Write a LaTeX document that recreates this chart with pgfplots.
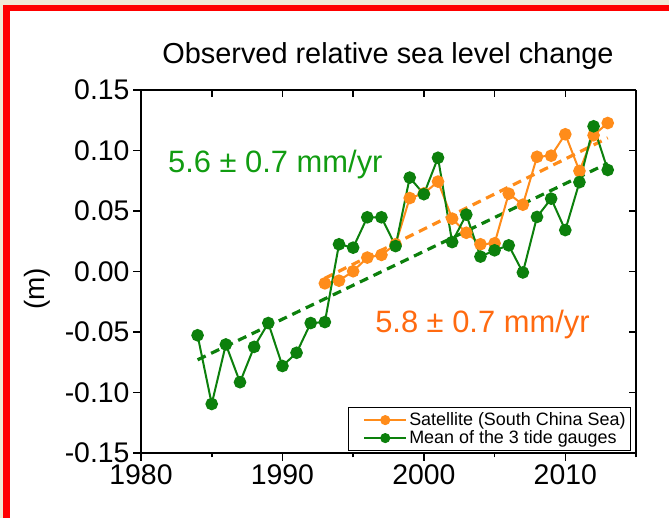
\documentclass[border=0pt]{standalone}
\usepackage{pgfplots}
\pgfplotsset{compat=1.18}
\usepackage{pgfplotstable}
\usepackage{fontspec}
\setmainfont{Liberation Sans}

\definecolor{satorange}{RGB}{255,140,26}
\definecolor{tidegreen}{RGB}{12,128,12}
\definecolor{txtgreen}{RGB}{17,156,17}
\definecolor{txtorange}{RGB}{255,106,16}
\definecolor{framered}{RGB}{255,0,0}
\definecolor{backbeige}{RGB}{240,233,214}

% Satellite altimetry, South China Sea (m)
\pgfplotstableread{
year sat
1993 -0.0098
1994 -0.0076
1995  0.0002
1996  0.0115
1997  0.0137
1998  0.0225
1999  0.0607
2000  0.0645
2001  0.0743
2002  0.0437
2003  0.0320
2004  0.0225
2005  0.0233
2006  0.0643
2007  0.0552
2008  0.0948
2009  0.0957
2010  0.1134
2011  0.0831
2012  0.1126
2013  0.1227
}\satellite

% Mean of the three tide gauges (m)
\pgfplotstableread{
year tide
1984 -0.0527
1985 -0.1095
1986 -0.0603
1987 -0.0915
1988 -0.0623
1989 -0.0426
1990 -0.0781
1991 -0.0672
1992 -0.0426
1993 -0.0418
1994  0.0225
1995  0.0197
1996  0.0448
1997  0.0448
1998  0.0210
1999  0.0776
2000  0.0639
2001  0.0940
2002  0.0243
2003  0.0470
2004  0.0123
2005  0.0175
2006  0.0216
2007 -0.0008
2008  0.0451
2009  0.0602
2010  0.0342
2011  0.0738
2012  0.1200
2013  0.0839
}\tide

\pgfplotsset{
  frame/.style={
    scale only axis, width=495bp, height=363bp,
    at={(141bp,65bp)}, anchor=south west,
    xmin=1980, xmax=2015, ymin=-0.15, ymax=0.15,
    axis line style={line width=2bp, black},
    major tick style={line width=1.6bp, black},
    minor tick style={line width=1.6bp, black},
    ytick={-0.15,-0.10,-0.05,0,0.05,0.10,0.15},
  }
}

\begin{document}
\begin{tikzpicture}[x=1bp,y=1bp]
\useasboundingbox (0,0) rectangle (669,518);
\fill[backbeige] (0,0) rectangle (669,518);
\fill[framered] (3.3,0) rectangle (669,513);
\fill[white] (10,0) rectangle (669,507);

% bottom and left axes, outward ticks, labels and data
\begin{axis}[frame,
  axis x line*=bottom, axis y line*=left,
  tick align=outside,
  xtick={1980,1990,2000,2010},
  xticklabels={1980,1990,2000,2010},
  minor xtick={1985,1995,2005,2015},
  yticklabels={-0.15,-0.10,-0.05,0.00,0.05,0.10,0.15},
  major tick length=8bp, minor tick length=4.5bp,
  tick label style={font=\fontsize{28.5}{30}\selectfont},
  legend style={at={(rel axis cs:0.99,0.006)}, anchor=south east,
    draw=black, line width=1bp, fill=white,
    font=\fontsize{18}{20}\selectfont,
    inner xsep=3bp, inner ysep=3bp, row sep=-0.5bp},
  legend cell align=left,
  legend image code/.code={
    \path (-12bp,0bp);
    \draw[mark repeat=2, mark phase=2, #1, mark size=4bp]
      plot coordinates {(0bp,0bp) (21bp,0bp) (42bp,0bp)};},
  clip=false,
]
\addplot[satorange, line width=3.2bp, dash pattern=on 9bp off 6bp, forget plot]
  coordinates {(1993,-0.0056) (2013,0.1104)};
\addplot[tidegreen, line width=3.2bp, dash pattern=on 9bp off 6bp, forget plot]
  coordinates {(1984,-0.0730) (2013,0.0894)};

\addplot[satorange, line width=2bp, mark=*, mark size=5.3bp, mark options={solid}]
  table[x=year, y=sat] {\satellite};
\addlegendentry{Satellite (South China Sea)}
\addplot[tidegreen, line width=2bp, mark=*, mark size=5.3bp, mark options={solid}]
  table[x=year, y=tide] {\tide};
\addlegendentry{Mean of the 3 tide gauges}

\node[txtgreen, font=\fontsize{31}{33}\selectfont] at (axis cs:1989.5,0.0883)
  {5.6 ± 0.7 mm/yr};
\node[txtorange, font=\fontsize{31}{33}\selectfont] at (axis cs:2004.14,-0.0441)
  {5.8 ± 0.7 mm/yr};
\end{axis}

% top and right axes, inward ticks
\begin{axis}[frame,
  axis x line*=top, axis y line*=right,
  tick align=inside,
  xtick={1980,1985,...,2015},
  xticklabels={}, yticklabels={},
  major tick length=7bp,
]
\end{axis}

\node[font=\fontsize{29}{31}\selectfont, anchor=base] at (388,454)
  {Observed relative sea level change};
\node[font=\fontsize{28}{30}\selectfont, rotate=90] at (37,229) {(m)};
\end{tikzpicture}
\end{document}
